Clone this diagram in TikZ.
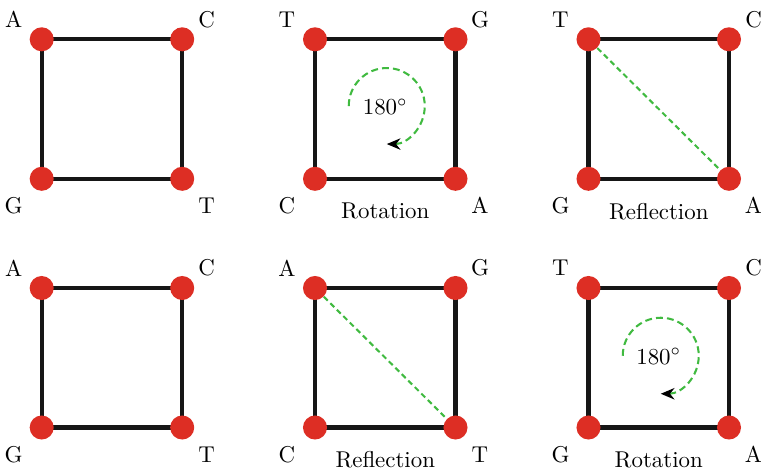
\documentclass[tikz,border=0pt]{standalone}
\usetikzlibrary{arrows.meta,backgrounds,calc}
\definecolor{vred}{RGB}{221,46,36}
\definecolor{vgreen}{RGB}{64,186,64}
\definecolor{edgeblack}{RGB}{22,22,22}
\newcommand\makesquare[7]{%
  \node[vertex] (#1tl) at (#2,#3) {};
  \node[vertex] (#1tr) at (#2+140.5,#3) {};
  \node[vertex] (#1bl) at (#2,#3+139.5) {};
  \node[vertex] (#1br) at (#2+140.5,#3+139.5) {};
  \begin{scope}[on background layer]
    \draw[edge] (#1tl.center) -- (#1tr.center) -- (#1br.center) -- (#1bl.center) -- cycle;
  \end{scope}
  \node[lab] (#1Ltl) at ($(#1tl)+(-28,-20)$) {#4};
  \node[lab] (#1Ltr) at ($(#1tr)+(24.5,-20)$) {#5};
  \node[lab] (#1Lbl) at ($(#1bl)+(-28,27)$) {#6};
  \node[lab] (#1Lbr) at ($(#1br)+(24.5,27)$) {#7};
  \coordinate (#1c) at ($(#1tl)!0.5!(#1br)$);
  \coordinate (#1cap) at ($(#1bl)!0.5!(#1br)+(0,32.5)$);
}
\begin{document}
\begin{tikzpicture}[x=0.437pt,y=-0.437pt,
  vertex/.style={circle,fill=vred,inner sep=0pt,minimum size=10.5pt},
  edge/.style={draw=edgeblack,line width=1.9pt},
  lab/.style={inner sep=0pt},
  diag/.style={draw=vgreen,line width=0.9pt,dash pattern=on 2.4pt off 1.6pt},
  rotarc/.style={draw=vgreen,line width=0.9pt,dash pattern=on 3pt off 1.8pt,
    -{Stealth[length=6pt,width=5pt,color=black]}},
]
\useasboundingbox (0,0) rectangle (761,470);
% row 1
\makesquare{a}{41.7}{39.3}{A}{C}{G}{T}
\makesquare{b}{315}{39.3}{T}{G}{C}{A}
\makesquare{c}{588.5}{39.3}{T}{C}{G}{A}
% row 2
\makesquare{d}{41.7}{288}{A}{C}{G}{T}
\makesquare{e}{315}{288}{A}{G}{C}{T}
\makesquare{f}{588.5}{288}{T}{C}{G}{A}
% rotation 1
\draw[rotarc] ($(bc)+(-36.5,-3)$) arc[start angle=180,end angle=450,radius=38];
\node[lab] (brot) at ($(bc)+(0,-2.5)$) {$180^\circ$};
\node[lab] (bcaption) at (bcap) {Rotation};
% reflection 1
\draw[diag] (ctl) -- (cbr);
\node[lab] (ccaption) at (ccap) {Reflection};
% reflection 2
\draw[diag] (etl) -- (ebr);
\node[lab] (ecaption) at (ecap) {Reflection};
% rotation 2
\draw[rotarc] ($(fc)+(-36,-2)$) arc[start angle=180,end angle=450,radius=38];
\node[lab] (frot) at ($(fc)+(0,-1.5)$) {$180^\circ$};
\node[lab] (fcaption) at (fcap) {Rotation};
\end{tikzpicture}
\end{document}
